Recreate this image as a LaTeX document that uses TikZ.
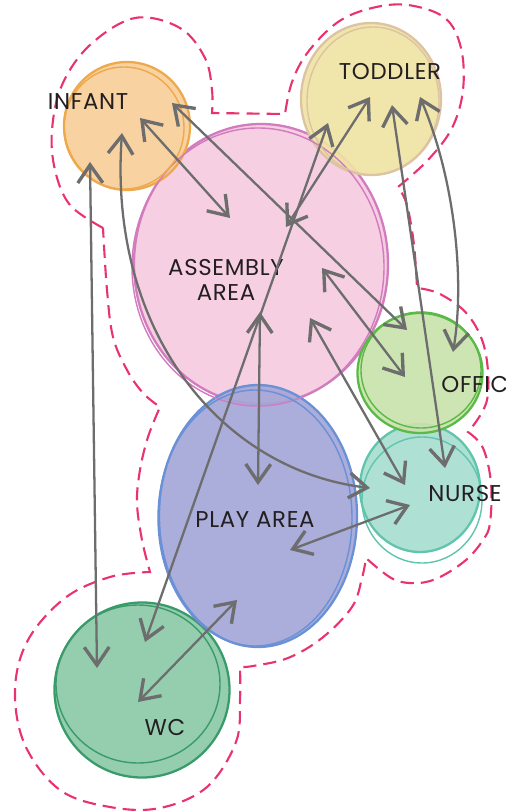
\documentclass[tikz,border=0pt]{standalone}
\usepackage{fontspec}
\setmainfont{Poppins}[LetterSpace=3.0]
\usepackage{tikz}
\usetikzlibrary{arrows.meta,shapes.geometric}
\definecolor{infantfill}{HTML}{F7CE98}
\definecolor{infantline}{HTML}{EEA94C}
\definecolor{toddlerfill}{HTML}{EFE3A4}
\definecolor{toddlerline}{HTML}{DCC3A2}
\definecolor{assemblyfill}{HTML}{F5CBE0}
\definecolor{assemblyline}{HTML}{D27BBE}
\definecolor{officefill}{HTML}{C9E2AC}
\definecolor{officeline}{HTML}{5CB947}
\definecolor{nursefill}{HTML}{A8DDD0}
\definecolor{nurseline}{HTML}{60C5AD}
\definecolor{playfill}{HTML}{A4A6D7}
\definecolor{playline}{HTML}{6A90D6}
\definecolor{wcfill}{HTML}{8CCAA8}
\definecolor{wcline}{HTML}{3A9B6A}
\definecolor{zonered}{HTML}{E9336F}
\definecolor{linkgray}{HTML}{6D6D6D}
\definecolor{ink}{HTML}{231F20}

\begin{document}
\begin{tikzpicture}[
  x=0.2mm,y=-0.2mm,
  bubble/.style={ellipse,inner sep=0pt,line width=1.3pt,fill opacity=0.92},
  stroke/.style={line width=0.8pt},
  lbl/.style={font=\fontsize{13}{14}\selectfont,text=ink,inner sep=0pt},
  zone/.style={draw=zonered,line width=1.2pt,dash pattern=on 7.5pt off 4pt},
  arr/.style={{Straight Barb[length=3.6mm,width=5mm,line width=1.9pt]}-{Straight Barb[length=3.6mm,width=5mm,line width=1.9pt]},line width=1.3pt,draw=linkgray,line cap=round,line join=round}
]
\useasboundingbox (0,0) rectangle (506,811);

% bubbles
\node[bubble,draw=assemblyline,fill=assemblyfill,minimum width=50.8mm,minimum height=56mm] (assembly) at (261,264) {};
\node[bubble,draw=infantline,fill=infantfill,minimum width=25.2mm,minimum height=25.6mm] (infant) at (127,126) {};
\node[bubble,draw=toddlerline,fill=toddlerfill,minimum width=28mm,minimum height=30.4mm] (toddler) at (371,99) {};
\node[bubble,draw=playline,fill=playfill,minimum width=39.6mm,minimum height=52.4mm] (play) at (258,516) {};
\node[bubble,draw=nurseline,fill=nursefill,minimum width=24mm,minimum height=25.6mm] (nurse) at (420,488) {};
\node[bubble,draw=officeline,fill=officefill,minimum width=25mm,minimum height=24mm] (office) at (420,373) {};
\node[bubble,draw=wcline,fill=wcfill,minimum width=35mm,minimum height=35mm] (wc) at (142,690) {};

% second pencil strokes
\draw[stroke,assemblyline] (258,267) ellipse [x radius=126, y radius=139];
\draw[stroke,infantline] (124,128) ellipse [x radius=60, y radius=61];
\draw[stroke,toddlerline] (373,101) ellipse [x radius=66, y radius=74];
\draw[stroke,playline] (255,518) ellipse [x radius=97, y radius=128];
\draw[stroke,nurseline] (422,500) ellipse [x radius=60, y radius=63];
\draw[stroke,officeline] (421,370) ellipse [x radius=60, y radius=58];
\draw[stroke,wcline] (138,684) ellipse [x radius=82, y radius=79];

% zone outline
\draw[zone] plot[smooth,tension=0.6] coordinates {(103,228) (70,205) (55,170) (52,130) (62,85) (90,45) (135,18) (180,28) (205,58) (212,90) (212,113)}
 -- (285,114)
 -- plot[smooth,tension=0.6] coordinates {(285,114) (292,82) (308,52) (338,22) (372,8) (408,5) (445,18) (461,48) (463,90) (452,128) (428,160) (398,187)}
 -- plot[smooth,tension=0.6] coordinates {(398,187) (407,205) (414,245) (417,288)}
 -- plot[smooth,tension=0.6] coordinates {(417,288) (440,294) (468,315) (485,350) (487,400) (468,432)}
 -- plot[smooth,tension=0.6] coordinates {(468,432) (483,448) (491,483) (490,523) (483,540) (466,560) (440,577) (418,583) (393,579) (366,558)}
 -- plot[smooth,tension=0.6] coordinates {(366,558) (362,578) (352,607) (322,638) (288,658) (253,666) (240,667)}
 -- plot[smooth,tension=0.6] coordinates {(240,667) (240,700) (236,742) (207,787) (160,808) (110,807) (60,790) (25,745) (15,690) (28,640) (65,598) (110,577) (150,572)}
 -- plot[smooth,tension=0.6] coordinates {(150,572) (142,540) (137,503) (140,470) (148,437) (160,407)}
 -- plot[smooth,tension=0.6] coordinates {(160,407) (143,393) (127,370) (113,337) (107,290) (103,228)}
 -- cycle;

% labels
\node[lbl] (infantlbl) at (88,102) {INFANT};
\node[lbl] (toddlerlbl) at (390,72) {TODDLER};
\node[lbl,align=center] (assemblylbl) at (226,280) {ASSEMBLY\\AREA};
\node[lbl,anchor=west] (officelbl) at (441,385) {OFFIC};
\node[lbl] (nurselbl) at (465,494) {NURSE};
\node[lbl] (playlbl) at (255,520) {PLAY AREA};
\node[lbl] (wclbl) at (165,727) {WC};

% link ends
\coordinate (inf1) at (140,118);
\coordinate (inf2) at (172,103);
\coordinate (inf3) at (90,162);
\coordinate (inf4) at (122,133);
\coordinate (tod1) at (370,97);
\coordinate (tod2) at (328,123);
\coordinate (tod3) at (392,105);
\coordinate (tod4) at (420,97);
\coordinate (asm1) at (230,218);
\coordinate (asm2) at (322,268);
\coordinate (asm3) at (286,227);
\coordinate (asm4) at (260,312);
\coordinate (asm5) at (310,318);
\coordinate (off1) at (407,330);
\coordinate (off2) at (405,377);
\coordinate (off3) at (453,352);
\coordinate (nur1) at (370,488);
\coordinate (nur2) at (445,468);
\coordinate (nur3) at (405,485);
\coordinate (nur4) at (410,505);
\coordinate (ply1) at (258,485);
\coordinate (ply2) at (290,550);
\coordinate (ply3) at (237,600);
\coordinate (wc1) at (145,642);
\coordinate (wc2) at (97,668);
\coordinate (wc3) at (138,702);

% links
\foreach \a/\b in {inf1/asm1,inf2/off1,asm2/off2,tod1/asm3,tod2/wc1,asm4/ply1,inf3/wc2,tod3/nur2,asm5/nur3,ply2/nur4,ply3/wc3}
  \draw[arr] (\a)--(\b);
\draw[arr] (inf4) .. controls (108,330) and (220,470) .. (nur1);
\draw[arr] (tod4) .. controls (455,180) and (465,280) .. (off3);
\end{tikzpicture}
\end{document}
